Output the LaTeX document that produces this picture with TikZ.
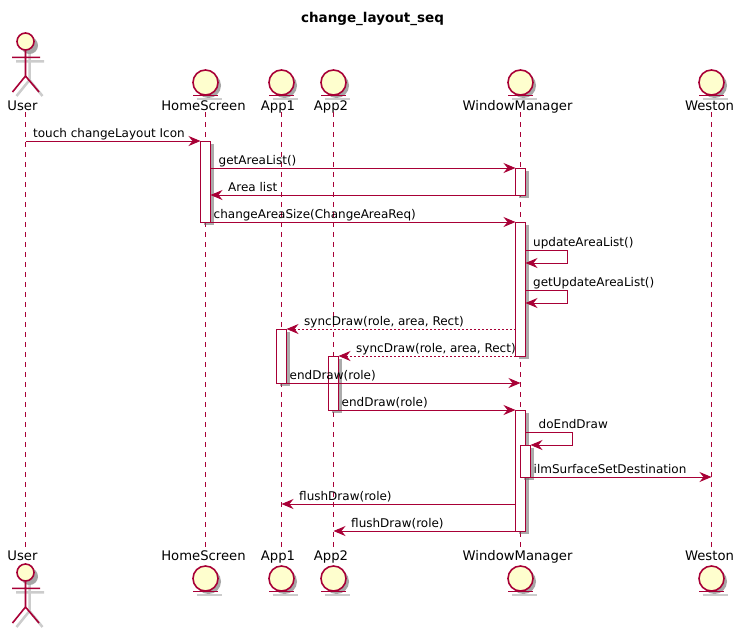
\documentclass[tikz,border=0pt]{standalone}
\usepackage{fontspec}
\setmainfont{DejaVu Sans}
\usepackage{xcolor}
\usetikzlibrary{arrows.meta,shadows}
\definecolor{umlline}{HTML}{A80036}
\definecolor{umlfill}{HTML}{FEFECE}
\tikzset{
  msgtext/.style={anchor=base west,inner sep=0pt,font=\fontsize{12}{14}\selectfont},
  headtext/.style={anchor=base,inner sep=0pt,font=\fontsize{13.2}{15}\selectfont},
  msg/.style={umlline,line width=1pt,-{Stealth[length=12pt,width=10pt,inset=4pt]}},
  reply/.style={msg,dash pattern=on 2pt off 2pt},
  lifeline/.style={umlline,line width=1pt,dash pattern=on 5pt off 5pt},
  actbar/.style={draw=umlline,fill=white,line width=1pt,minimum width=10pt,inner sep=0pt,outer sep=0pt,
    drop shadow={shadow xshift=3pt,shadow yshift=-3pt,fill=black!60,opacity=0.55}},
  umlshape/.style={draw=umlline,fill=umlfill,line width=1.6pt},
  umlshade/.style={draw=black!20,line width=2.5pt},
  entity/.pic={
    \fill[black!35] (3,3) circle (12.5);
    \draw[umlshade] (-9,16.5) -- (16,16.5);
    \draw[umlshape] (0,0) circle (12.5);
    \draw[umlline,line width=1.6pt] (-12.5,13) -- (12.5,13);
  },
  actor/.pic={
    \fill[black!35] (4,4) circle (8.5);
    \draw[umlshade] (4,12.5) -- (4,38.5) (-9.5,19.8) -- (18.5,19.8) (4,38.5) -- (-9,54.5) (4,38.5) -- (17,54.5);
    \draw[umlshape] (0,0) circle (8.5);
    \draw[umlline,line width=1.6pt] (0,8.5) -- (0,34.5) (-13.5,15.8) -- (14.5,15.8)
      (0,34.5) -- (-13,50.5) (0,34.5) -- (13.5,50.5);
  }
}

\begin{document}
\begin{tikzpicture}[x=1pt,y=-1pt]
      \useasboundingbox (0,0) rectangle (743,633);

      % title
      \node[inner sep=0pt,anchor=base] (title) at (372.5,22) {\fontsize{13.5}{16}\selectfont\bfseries change\_layout\_seq};

      % participants, top row
      \pic at (25.5,41.5) {actor};
      \pic at (205.5,82.5) {entity};
      \pic at (281.5,82.5) {entity};
      \pic at (333.5,82.5) {entity};
      \pic at (520.5,82.5) {entity};
      \pic at (711.5,82.5) {entity};
      \node[headtext] (userT) at (22.5,110) {User};
      \node[headtext] (homeT) at (203.5,110) {HomeScreen};
      \node[headtext] (app1T) at (278,110) {App1};
      \node[headtext] (app2T) at (331,110) {App2};
      \node[headtext] (wmT) at (517.5,110) {WindowManager};
      \node[headtext] (westonT) at (709.5,110) {Weston};

      % participants, bottom row
      \pic at (25.5,572.5) {actor};
      \pic at (205.5,578.5) {entity};
      \pic at (281.5,578.5) {entity};
      \pic at (333.5,578.5) {entity};
      \pic at (520.5,578.5) {entity};
      \pic at (711.5,578.5) {entity};
      \node[headtext] (userB) at (22.5,560) {User};
      \node[headtext] (homeB) at (203.5,560) {HomeScreen};
      \node[headtext] (app1B) at (278,560) {App1};
      \node[headtext] (app2B) at (331,560) {App2};
      \node[headtext] (wmB) at (517.5,560) {WindowManager};
      \node[headtext] (westonB) at (709.5,560) {Weston};

      % lifelines
      \coordinate (user) at (25.5,112);
      \coordinate (home) at (205.5,112);
      \coordinate (app1) at (281.5,112);
      \coordinate (app2) at (333.5,112);
      \coordinate (wm) at (520.5,112);
      \coordinate (weston) at (711.5,112);
      \draw[lifeline] (user) -- (user |- 0,548);
      \draw[lifeline] (home) -- (home |- 0,548);
      \draw[lifeline] (app1) -- (app1 |- 0,548);
      \draw[lifeline] (app2) -- (app2 |- 0,548);
      \draw[lifeline] (wm) -- (wm |- 0,548);
      \draw[lifeline] (weston) -- (weston |- 0,548);

      % activation bars
      \node[actbar,minimum height=81pt] (homebar) at (205.5,181.5) {};
      \node[actbar,minimum height=27pt] (wmbarA) at (520.5,181.5) {};
      \node[actbar,minimum height=134pt] (wmbarB) at (520.5,289) {};
      \node[actbar,minimum height=54pt] (app1bar) at (281.5,356) {};
      \node[actbar,minimum height=54pt] (app2bar) at (333.5,383) {};
      \node[actbar,minimum height=121pt] (wmbarC) at (520.5,470.5) {};
      \node[actbar,minimum height=32pt] (wmbarD) at (525.5,461) {};

      % calls
      \draw[msg] (user |- 0,141) -- (homebar.north west);
      \node[msgtext] (touchmsg) at (33,137) {touch changeLayout Icon};
      \draw[msg] (homebar.east |- 0,168) -- (wmbarA.north west);
      \node[msgtext] (getmsg) at (218.5,164) {getAreaList()};
      \draw[msg] (wmbarA.south west) -- (homebar.east |- 0,195);
      \node[msgtext] (listmsg) at (228,191) {Area list};
      \draw[msg] (homebar.south east) -- (wmbarB.north west);
      \node[msgtext] (sizemsg) at (213.5,218) {changeAreaSize(ChangeAreaReq)};

      % self calls on the window manager
      \draw[msg] (wmbarB.east |- 0,250) -- ++(42,0) -- ++(0,13) -- (wmbarB.east |- 0,263);
      \node[msgtext] (updatemsg) at (533,246) {updateAreaList()};
      \draw[msg] (wmbarB.east |- 0,290) -- ++(42,0) -- ++(0,13) -- (wmbarB.east |- 0,303);
      \node[msgtext] (getupdatemsg) at (533,286) {getUpdateAreaList()};

      % sync and end of drawing
      \draw[reply] (wmbarB.west |- 0,329) -- (app1bar.north east);
      \node[msgtext] (synconemsg) at (304,325) {syncDraw(role, area, Rect)};
      \draw[reply] (wmbarB.south west) -- (app2bar.north east);
      \node[msgtext] (synctwomsg) at (356,352) {syncDraw(role, area, Rect)};
      \draw[msg] (app1bar.south east) -- (wm |- 0,383);
      \node[msgtext] (endonemsg) at (289.5,379) {endDraw(role)};
      \draw[msg] (app2bar.south east) -- (wmbarC.north west);
      \node[msgtext] (endtwomsg) at (341.5,406) {endDraw(role)};

      % nested call
      \draw[msg] (wmbarC.east |- 0,432) -- ++(47,0) -- ++(0,13) -- (wmbarD.north east);
      \node[msgtext] (doendmsg) at (538.5,428) {doEndDraw};
      \draw[msg] (wmbarD.south east) -- (weston |- 0,477);
      \node[msgtext] (ilmmsg) at (533.5,473) {ilmSurfaceSetDestination};

      % flush
      \draw[msg] (wmbarC.west |- 0,504) -- (app1 |- 0,504);
      \node[msgtext] (flushonemsg) at (299,500) {flushDraw(role)};
      \draw[msg] (wmbarC.south west) -- (app2 |- 0,531);
      \node[msgtext] (flushtwomsg) at (351,527) {flushDraw(role)};
\end{tikzpicture}
\end{document}
